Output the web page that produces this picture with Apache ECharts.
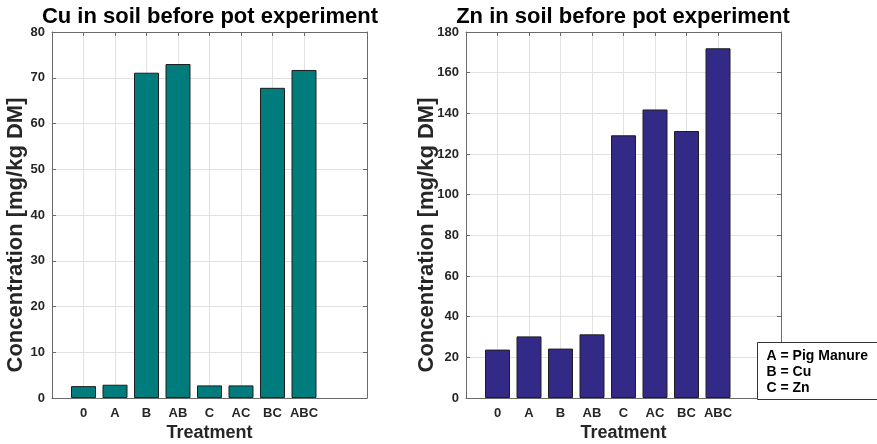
<!DOCTYPE html>
<html>
<head>
<meta charset="utf-8">
<script src="https://cdn.jsdelivr.net/npm/echarts@6/dist/echarts.min.js"></script>
<style>
  html, body { margin: 0; padding: 0; background: #fff; }
  #chart { width: 877px; height: 444px; }
</style>
</head>
<body>
<div id="chart"></div>
<script>
// Treatment groups (A = pig manure, B = Cu, C = Zn)
const treatments = ['0', 'A', 'B', 'AB', 'C', 'AC', 'BC', 'ABC'];
// Metal concentration in soil before the pot experiment [mg/kg DM]
const cuValues = [2.6, 2.9, 71.1, 73.0, 2.75, 2.75, 67.8, 71.7];
const znValues = [23.8, 30.3, 24.3, 31.3, 129.2, 141.9, 131.3, 172.0];
// Axis ranges and tick steps
const cuTicks = { min: 0, max: 80, step: 10 };
const znTicks = { min: 0, max: 180, step: 20 };
const legendLines = ['A = Pig Manure', 'B = Cu', 'C = Zn'];

const FONT = '"Liberation Sans", Arial, sans-serif';
const AXIS_COLOR = '#6a6a6a';
const LABEL_COLOR = '#262626';
const GRID_COLOR = '#e2e2e2';
const tickPositions = treatments.map((_, i) => i + 1);

function xAxes(gridIndex) {
  return [
    {
      gridIndex, type: 'value', min: 0, max: 10, interval: 1, position: 'bottom',
      name: 'Treatment', nameLocation: 'middle', nameGap: 26, nameMoveOverlap: false,
      nameTextStyle: { fontFamily: FONT, fontWeight: 'bold', fontSize: 18, color: LABEL_COLOR },
      axisLine: { show: true, onZero: false, lineStyle: { color: AXIS_COLOR, width: 1 } },
      axisTick: { show: true, inside: true, length: 4, customValues: tickPositions, lineStyle: { color: AXIS_COLOR } },
      axisLabel: {
        customValues: tickPositions, margin: 9,
        fontFamily: FONT, fontWeight: 'bold', fontSize: 13, color: LABEL_COLOR,
        formatter: v => treatments[Math.round(v) - 1] || ''
      },
      splitLine: { show: true, lineStyle: { color: GRID_COLOR, width: 1 } }
    },
    {
      gridIndex, type: 'value', min: 0, max: 10, interval: 1, position: 'top',
      axisLine: { show: true, onZero: false, lineStyle: { color: AXIS_COLOR, width: 1 } },
      axisTick: { show: true, inside: true, length: 4, customValues: tickPositions, lineStyle: { color: AXIS_COLOR } },
      axisLabel: { show: false },
      splitLine: { show: false }
    }
  ];
}

function yAxes(gridIndex, t, nameGap) {
  return [
    {
      gridIndex, type: 'value', min: t.min, max: t.max, interval: t.step, position: 'left',
      name: 'Concentration [mg/kg DM]', nameLocation: 'middle', nameGap, nameRotate: 90,
      nameMoveOverlap: false,
      nameTextStyle: { fontFamily: FONT, fontWeight: 'bold', fontSize: 22, color: LABEL_COLOR,
                       padding: [0, 40, 0, 0] },
      axisLine: { show: true, onZero: false, lineStyle: { color: AXIS_COLOR, width: 1 } },
      axisTick: { show: true, inside: true, length: 4, lineStyle: { color: AXIS_COLOR } },
      axisLabel: { margin: 7, fontFamily: FONT, fontWeight: 'bold', fontSize: 13, color: LABEL_COLOR },
      splitLine: { show: true, lineStyle: { color: GRID_COLOR, width: 1 } }
    },
    {
      gridIndex, type: 'value', min: t.min, max: t.max, interval: t.step, position: 'right',
      axisLine: { show: true, onZero: false, lineStyle: { color: AXIS_COLOR, width: 1 } },
      axisTick: { show: true, inside: true, length: 4, lineStyle: { color: AXIS_COLOR } },
      axisLabel: { show: false },
      splitLine: { show: false }
    }
  ];
}

function barSeries(axisOffset, values, color) {
  return {
    type: 'bar',
    xAxisIndex: axisOffset, yAxisIndex: axisOffset,
    data: values.map((v, i) => [i + 1, v]),
    barWidth: 25,
    itemStyle: { color, borderColor: '#1e1e1e', borderWidth: 1 },
    emphasis: { disabled: true },
    z: 3
  };
}

const chart = echarts.init(document.getElementById('chart'), null, { renderer: 'canvas' });
chart.setOption({
  animation: false,
  backgroundColor: '#ffffff',
  title: [
    { text: 'Cu in soil before pot experiment', left: 205, textAlign: 'center', top: 1,
      textStyle: { fontFamily: FONT, fontWeight: 'bold', fontSize: 22, color: '#000' } },
    { text: 'Zn in soil before pot experiment', left: 618, textAlign: 'center', top: 1,
      textStyle: { fontFamily: FONT, fontWeight: 'bold', fontSize: 22, color: '#000' } }
  ],
  grid: [
    { left: 52, top: 32, width: 315, height: 366, outerBoundsMode: 'none' },
    { left: 466, top: 32, width: 315, height: 366, outerBoundsMode: 'none' }
  ],
  xAxis: [...xAxes(0), ...xAxes(1)],
  yAxis: [...yAxes(0, cuTicks, 25), ...yAxes(1, znTicks, 28)],
  series: [
    barSeries(0, cuValues, '#017c7c'),
    barSeries(2, znValues, '#332a88')
  ],
  graphic: [
    {
      type: 'group', left: 757, top: 342, z: 100,
      children: [
        { type: 'rect', z: 100, shape: { x: 0, y: 0, width: 140, height: 57 },
          style: { fill: '#ffffff', stroke: '#333333', lineWidth: 1 } },
        { type: 'text', z: 101, x: 9, y: 6,
          style: { text: legendLines.join('\n'), fontFamily: FONT, fontWeight: 'bold', fontSize: 14,
                   lineHeight: 16, fill: '#000' } }
      ]
    }
  ]
});
</script>
</body>
</html>
